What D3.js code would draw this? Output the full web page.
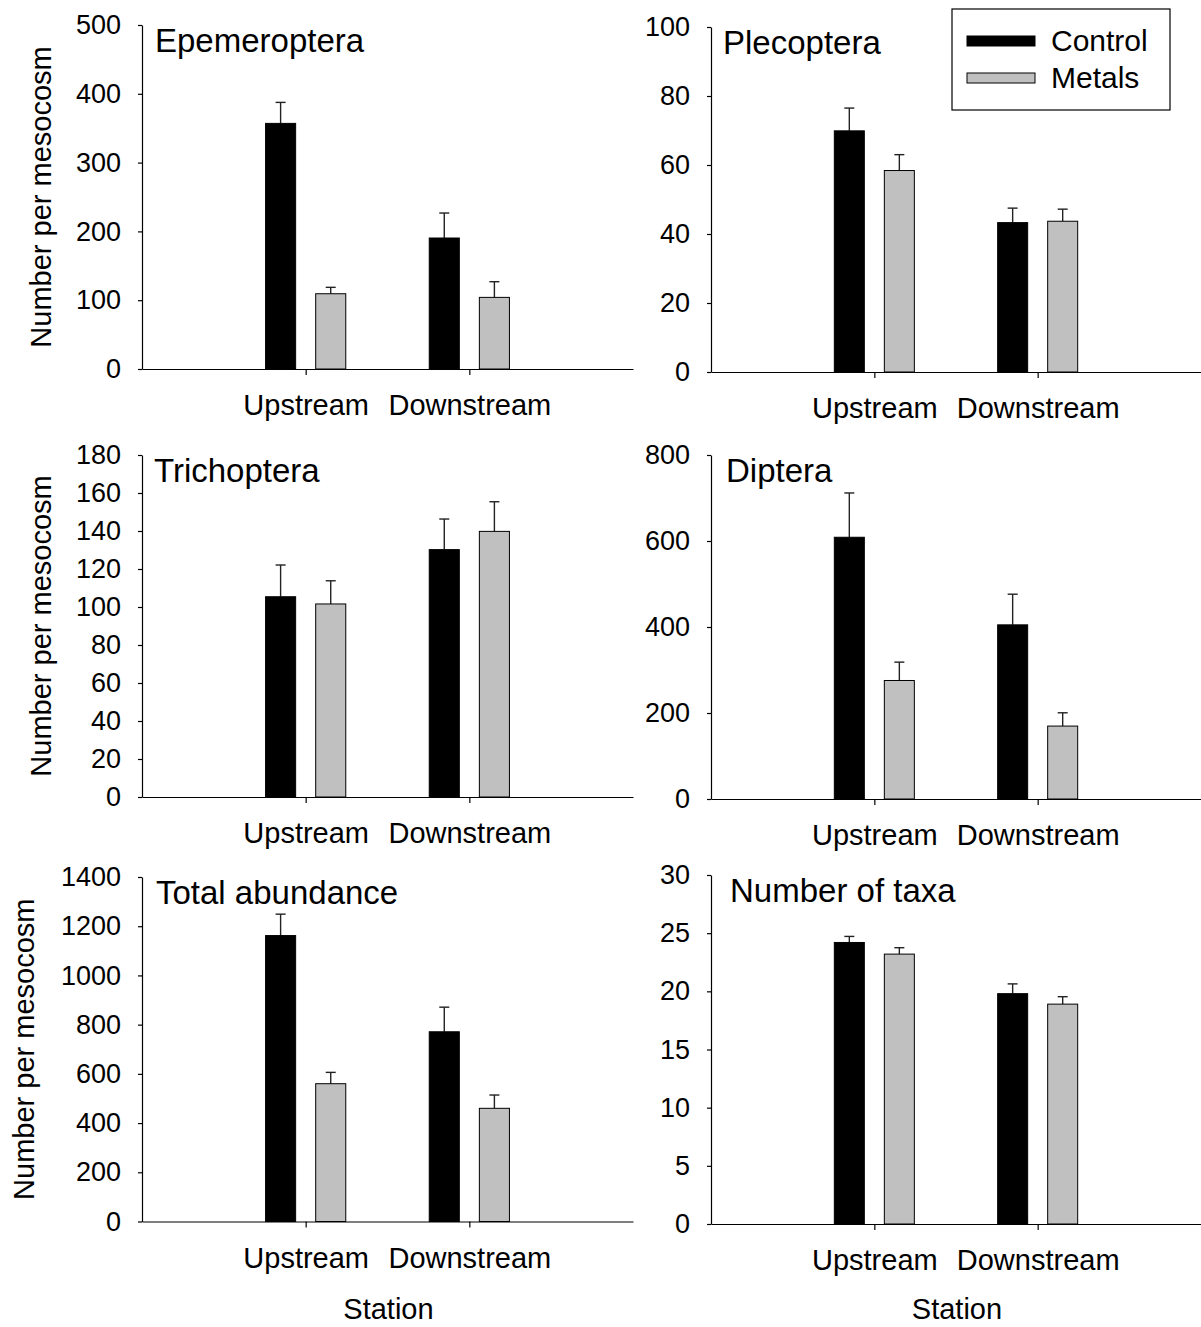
<!DOCTYPE html>
<html>
<head>
<meta charset="utf-8">
<script src="https://cdn.jsdelivr.net/npm/d3@7"></script>
<style>
  html, body { margin: 0; padding: 0; background: #fff; }
  svg { display: block; font-family: "Liberation Sans", Arial, sans-serif; }
</style>
</head>
<body>
<svg id="chart" width="1201" height="1327"></svg>
<script>
// Benthic invertebrates per mesocosm, control vs metals, at two stations
const stations = ["Upstream", "Downstream"];
const treatments = ["Control", "Metals"];
const panelTitles = ["Epemeroptera", "Plecoptera", "Trichoptera", "Diptera", "Total abundance", "Number of taxa"];
const yMax = [500, 100, 180, 800, 1400, 30];
const yStep = [100, 20, 20, 200, 200, 5];

// means and standard errors, [panel][station]
const controlMean = [[357, 190.4], [69.9, 43.3], [105.4, 130.2], [608.7, 405], [1162, 771], [24.2, 19.8]];
const controlSE   = [[30.5, 36.3], [6.6, 4.2], [16.7, 16.1], [103, 71.3], [87, 100], [0.52, 0.84]];
const metalsMean  = [[109.4, 104.1], [58.4, 43.7], [101.6, 139.8], [275.6, 169.6], [560, 460], [23.2, 18.9]];
const metalsSE    = [[9.3, 22.8], [4.6, 3.5], [12.2, 15.6], [42.7, 30.9], [46, 54], [0.55, 0.64]];

const means = [controlMean, metalsMean];
const errs = [controlSE, metalsSE];
const fills = ["#000000", "#c0c0c0"];
const FONT = "Liberation Sans, Arial, sans-serif";

// plot frames: left axis x, right end x, top y, baseline y
const frames = [
  { x0: 142, x1: 633, yTop: 25,  yBot: 369,   titleDx: 13 },
  { x0: 711, x1: 1201, yTop: 27, yBot: 372,   titleDx: 12 },
  { x0: 142, x1: 633, yTop: 455, yBot: 797,   titleDx: 12 },
  { x0: 711, x1: 1201, yTop: 455, yBot: 799,  titleDx: 15 },
  { x0: 142, x1: 633, yTop: 877, yBot: 1221.5, titleDx: 14 },
  { x0: 711, x1: 1201, yTop: 875, yBot: 1224, titleDx: 19 }
];
const yLabelX = [51, null, 51, null, 34, null];

const svg = d3.select("#chart");
svg.append("rect").attr("width", 1201).attr("height", 1327).attr("fill", "#fff");

frames.forEach((f, i) => {
  const g = svg.append("g");
  const y = d3.scaleLinear().domain([0, yMax[i]]).range([f.yBot, f.yTop]);
  const x = d3.scalePoint().domain(stations).range([f.x0, f.x1]).padding(1);
  const half = 0.245 * x.step();
  const sub = d3.scaleBand().domain(treatments).range([-half, half]).paddingInner(0.4);

  // bars with upper error bars
  stations.forEach((s, j) => {
    treatments.forEach((t, k) => {
      const v = means[k][i][j];
      const e = errs[k][i][j];
      const bx = x(s) + sub(t);
      const cx = bx + sub.bandwidth() / 2;
      g.append("line")
        .attr("x1", cx).attr("x2", cx)
        .attr("y1", y(v)).attr("y2", y(v + e))
        .attr("stroke", "#222").attr("stroke-width", 1.4);
      g.append("line")
        .attr("x1", cx - 5).attr("x2", cx + 5)
        .attr("y1", y(v + e)).attr("y2", y(v + e))
        .attr("stroke", "#222").attr("stroke-width", 1.4);
      g.append("rect")
        .attr("x", bx).attr("width", sub.bandwidth())
        .attr("y", y(v)).attr("height", y(0) - y(v))
        .attr("fill", fills[k]).attr("stroke", "#000").attr("stroke-width", 1);
    });
  });

  // y axis
  const ya = g.append("g")
    .attr("transform", `translate(${f.x0},0)`)
    .call(d3.axisLeft(y).tickValues(d3.range(0, yMax[i] + yStep[i] / 2, yStep[i]))
      .tickSize(4).tickSizeOuter(0).tickPadding(17).tickFormat(d3.format("d")));
  ya.selectAll("text").attr("font-size", 27).attr("font-family", FONT).attr("fill", "#000");

  // x axis
  const xa = g.append("g")
    .attr("transform", `translate(0,${f.yBot})`)
    .call(d3.axisBottom(x).tickSize(6).tickSizeOuter(0));
  xa.selectAll("text").attr("y", 46).attr("dy", null)
    .attr("font-size", 29).attr("font-family", FONT).attr("fill", "#000");

  [ya, xa].forEach(a => {
    a.selectAll("path, line").attr("stroke", "#000").attr("stroke-width", 1.2);
  });

  // panel title
  g.append("text")
    .attr("x", f.x0 + f.titleDx).attr("y", f.yTop + 27)
    .attr("font-size", 33).attr("fill", "#000")
    .text(panelTitles[i]);

  // y label
  if (yLabelX[i] !== null) {
    g.append("text")
      .attr("transform", `translate(${yLabelX[i]},${(f.yTop + f.yBot) / 2}) rotate(-90)`)
      .attr("text-anchor", "middle")
      .attr("font-size", 29).attr("fill", "#000")
      .text("Number per mesocosm");
  }

  // x label on bottom row
  if (i >= 4) {
    g.append("text")
      .attr("x", (f.x0 + f.x1) / 2 + 1).attr("y", 1319)
      .attr("text-anchor", "middle")
      .attr("font-size", 29).attr("fill", "#000")
      .text("Station");
  }
});

// legend
const leg = svg.append("g");
leg.append("rect")
  .attr("x", 952).attr("y", 9).attr("width", 218).attr("height", 101)
  .attr("fill", "#fff").attr("stroke", "#000").attr("stroke-width", 1.2);
treatments.forEach((t, k) => {
  const cy = 41 + k * 37;
  leg.append("rect")
    .attr("x", 967).attr("y", cy - 5).attr("width", 68).attr("height", 10)
    .attr("fill", fills[k]).attr("stroke", "#000").attr("stroke-width", 1);
  leg.append("text")
    .attr("x", 1051).attr("y", cy + 10)
    .attr("font-size", 30).attr("fill", "#000")
    .text(t);
});
</script>
</body>
</html>
